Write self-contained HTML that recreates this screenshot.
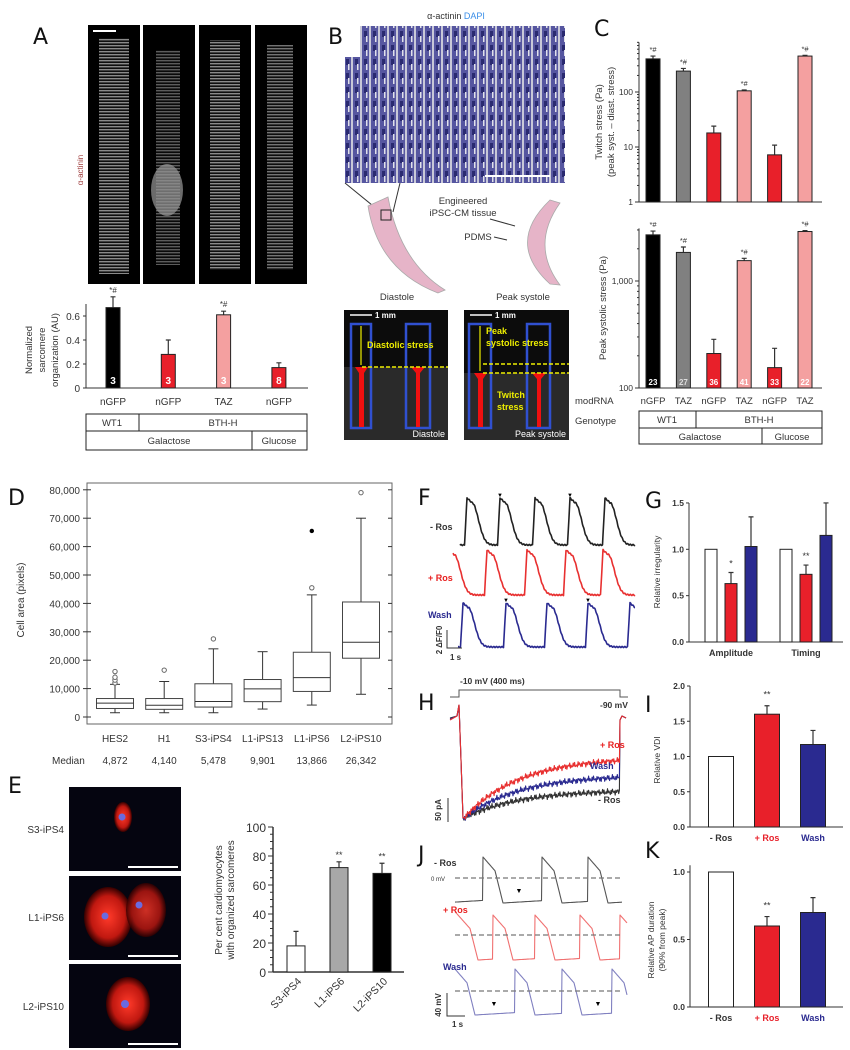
<!DOCTYPE html>
<html><head><meta charset="utf-8"><style>
html,body{margin:0;padding:0;background:#fff;}
svg{display:block;font-family:"Liberation Sans",Arial,sans-serif;}
.t{font-size:9.5px;fill:#333;}
.L{font-size:22px;fill:#111;font-family:"DejaVu Sans","Liberation Sans",sans-serif;}
.b{font-weight:bold;}
</style></head><body>
<svg id="fig" width="850" height="1050" viewBox="0 0 850 1050">
<defs>
<pattern id="sarc" width="6" height="3" patternUnits="userSpaceOnUse"><rect width="6" height="3" fill="#111"/><rect width="6" height="1.4" fill="#999"/></pattern>
<pattern id="tissue" width="9" height="14" patternUnits="userSpaceOnUse"><rect width="9" height="14" fill="#5656a0"/><rect x="0" width="2" height="14" fill="#c8c8d8"/><rect x="4" y="3" width="3" height="6" fill="#2a2a70"/><rect x="6" y="8" width="1.5" height="6" fill="#e0e0ea"/></pattern>
<radialGradient id="redcell"><stop offset="0" stop-color="#ff3a2a"/><stop offset="0.7" stop-color="#c01810"/><stop offset="1" stop-color="#300"/></radialGradient>
</defs>

<!-- Panel A -->
<text class="L" x="33" y="44">A</text>
<text class="t" x="0" y="0" transform="translate(83,170) rotate(-90)" text-anchor="middle" style="fill:#a04040;font-size:8px">α-actinin</text>
<g>
<rect x="88" y="25" width="52" height="259" fill="#000"/><rect x="99" y="38" width="30" height="236" fill="url(#sarc)" opacity="0.9"/>
<rect x="143" y="25" width="52" height="259" fill="#000"/><rect x="156" y="50" width="24" height="215" fill="url(#sarc)" opacity="0.6"/><ellipse cx="167" cy="190" rx="16" ry="26" fill="#999" opacity="0.7"/>
<rect x="199" y="25" width="52" height="259" fill="#000"/><rect x="210" y="40" width="30" height="230" fill="url(#sarc)" opacity="0.9"/>
<rect x="255" y="25" width="52" height="259" fill="#000"/><rect x="267" y="45" width="26" height="225" fill="url(#sarc)" opacity="0.75"/>
<rect x="93" y="30" width="23" height="2" fill="#fff"/>
</g>
<text class="t" transform="translate(32,350) rotate(-90)" text-anchor="middle"><tspan x="0" dy="0">Normalized</tspan><tspan x="0" dy="13">sarcomere</tspan><tspan x="0" dy="13">organization (AU)</tspan></text>
<g id="gA"></g>
<g class="t" text-anchor="middle">
<rect x="86" y="414" width="221" height="36" fill="none" stroke="#222"/>
<line x1="86" y1="431" x2="307" y2="431" stroke="#222"/><line x1="139" y1="414" x2="139" y2="431" stroke="#222"/><line x1="252" y1="431" x2="252" y2="450" stroke="#222"/>
<text x="112" y="426">WT1</text><text x="223" y="426">BTH-H</text><text x="169" y="444">Galactose</text><text x="279" y="444">Glucose</text>
</g>

<!-- Panel B -->
<text class="L" x="328" y="44">B</text>
<text class="t" x="456" y="19" text-anchor="middle" style="font-size:9px">α-actinin <tspan fill="#3a8ee8">DAPI</tspan></text>
<path d="M360,26 L565,26 L565,183 L345,183 L345,57 L360,57 Z" fill="url(#tissue)"/>
<rect x="485" y="175" width="65" height="2" fill="#fff"/>
<line x1="345" y1="183" x2="383" y2="214" stroke="#333"/>
<line x1="400" y1="183" x2="393" y2="212" stroke="#333"/>
<path d="M368,206 L388,197 Q400,262 445,290 L438,293 Q378,270 368,206 Z" fill="#e6b4c8" stroke="#aaa" stroke-width="0.8"/>
<rect x="381" y="210" width="10" height="10" fill="none" stroke="#222"/>
<path d="M550,200 L560,203 Q530,245 560,285 L550,284 Q505,243 550,200 Z" fill="#e6b4c8" stroke="#aaa" stroke-width="0.8"/>
<text class="t" x="463" y="204" text-anchor="middle">Engineered</text>
<text class="t" x="463" y="216" text-anchor="middle">iPSC-CM tissue</text>
<line x1="490" y1="219" x2="515" y2="226" stroke="#333"/>
<text class="t" x="478" y="240" text-anchor="middle">PDMS</text>
<line x1="494" y1="237" x2="507" y2="240" stroke="#333"/>
<text class="t" x="397" y="300" text-anchor="middle">Diastole</text>
<text class="t" x="523" y="300" text-anchor="middle">Peak systole</text>
<g>
<rect x="344" y="310" width="104" height="130" fill="#0c0c0c"/><rect x="344" y="367" width="104" height="73" fill="#2a2a2a"/>
<rect x="351" y="324" width="20" height="104" fill="none" stroke="#3050d0" stroke-width="2.5"/><rect x="406" y="324" width="24" height="104" fill="none" stroke="#3050d0" stroke-width="2.5"/>
<path d="M355,367 L368,367 L364,373 L364,427 L359,427 L359,373 Z" fill="#f01010"/><path d="M411,367 L425,367 L420,373 L420,427 L416,427 L416,373 Z" fill="#f01010"/>
<line x1="362" y1="367" x2="448" y2="367" stroke="#ee0" stroke-dasharray="4,2" stroke-width="1.5"/>
<line x1="361" y1="326" x2="361" y2="365" stroke="#ee0" stroke-width="1.2"/>
<text x="367" y="348" style="font-size:9px;fill:#ee0;font-weight:bold">Diastolic stress</text>
<line x1="350" y1="315" x2="372" y2="315" stroke="#fff" stroke-width="1.5"/><text x="375" y="318" style="font-size:8px;fill:#fff;font-weight:bold">1 mm</text>
<text x="445" y="437" text-anchor="end" style="font-size:9px;fill:#fff">Diastole</text>
</g>
<g>
<rect x="464" y="310" width="105" height="130" fill="#0c0c0c"/><rect x="464" y="373" width="105" height="67" fill="#2a2a2a"/>
<rect x="469" y="324" width="22" height="104" fill="none" stroke="#3050d0" stroke-width="2.5"/><rect x="527" y="324" width="23" height="104" fill="none" stroke="#3050d0" stroke-width="2.5"/>
<path d="M474,373 L487,373 L483,379 L483,427 L478,427 L478,379 Z" fill="#f01010"/><path d="M532,373 L546,373 L541,379 L541,427 L537,427 L537,379 Z" fill="#f01010"/>
<line x1="483" y1="364" x2="569" y2="364" stroke="#ee0" stroke-dasharray="4,2" stroke-width="1.5"/>
<line x1="483" y1="373" x2="569" y2="373" stroke="#ee0" stroke-dasharray="4,2" stroke-width="1.5"/>
<line x1="480" y1="326" x2="480" y2="371" stroke="#ee0" stroke-width="1.2"/>
<text x="486" y="334" style="font-size:9px;fill:#ee0;font-weight:bold">Peak</text><text x="486" y="346" style="font-size:9px;fill:#ee0;font-weight:bold">systolic stress</text>
<text x="497" y="398" style="font-size:9px;fill:#ee0;font-weight:bold">Twitch</text><text x="497" y="410" style="font-size:9px;fill:#ee0;font-weight:bold">stress</text>
<line x1="470" y1="315" x2="492" y2="315" stroke="#fff" stroke-width="1.5"/><text x="495" y="318" style="font-size:8px;fill:#fff;font-weight:bold">1 mm</text>
<text x="566" y="437" text-anchor="end" style="font-size:9px;fill:#fff">Peak systole</text>
</g>

<!-- Panel C -->
<text class="L" x="594" y="36">C</text>
<text class="t" transform="translate(602,122) rotate(-90)" text-anchor="middle"><tspan x="0" dy="0">Twitch stress (Pa)</tspan><tspan x="0" dy="12">(peak syst. – diast. stress)</tspan></text>
<text class="t" transform="translate(606,308) rotate(-90)" text-anchor="middle">Peak systolic stress (Pa)</text>
<g id="gC"></g>
<text class="t" x="575" y="404">modRNA</text>
<text class="t" x="575" y="424">Genotype</text>
<g class="t" text-anchor="middle">
<rect x="639" y="411" width="183" height="33" fill="none" stroke="#222"/>
<line x1="639" y1="428" x2="822" y2="428" stroke="#222"/><line x1="696" y1="411" x2="696" y2="428" stroke="#222"/><line x1="762" y1="428" x2="762" y2="444" stroke="#222"/>
<text x="667" y="423">WT1</text><text x="759" y="423">BTH-H</text><text x="700" y="440">Galactose</text><text x="792" y="440">Glucose</text>
</g>

<!-- Panel D -->
<text class="L" x="8" y="505">D</text>
<text class="t" transform="translate(24,600) rotate(-90)" text-anchor="middle" style="font-size:10px">Cell area (pixels)</text>
<g id="gD"></g>
<text class="t" x="52" y="764" style="font-size:10px">Median</text>

<!-- Panel E -->
<text class="L" x="8" y="793">E</text>
<g>
<rect x="69" y="787" width="112" height="84" fill="#050510"/><ellipse cx="123" cy="817" rx="9" ry="15" fill="url(#redcell)"/><circle cx="122" cy="817" r="3.5" fill="#6a6ae0"/><rect x="128" y="866" width="50" height="2" fill="#fff"/>
<rect x="69" y="876" width="112" height="84" fill="#050510"/><ellipse cx="108" cy="917" rx="24" ry="30" fill="url(#redcell)"/><ellipse cx="146" cy="910" rx="20" ry="27" fill="url(#redcell)" opacity="0.8"/><circle cx="105" cy="916" r="3.5" fill="#6a6ae0"/><circle cx="139" cy="905" r="3.5" fill="#6a6ae0"/><rect x="128" y="955" width="50" height="2" fill="#fff"/>
<rect x="69" y="964" width="112" height="84" fill="#050510"/><ellipse cx="128" cy="1004" rx="22" ry="27" fill="url(#redcell)"/><circle cx="125" cy="1004" r="4" fill="#6a6ae0"/><rect x="128" y="1043" width="50" height="2" fill="#fff"/>
</g>
<text class="t" x="64" y="833" text-anchor="end" style="font-size:10px">S3-iPS4</text>
<text class="t" x="64" y="921" text-anchor="end" style="font-size:10px">L1-iPS6</text>
<text class="t" x="64" y="1010" text-anchor="end" style="font-size:10px">L2-iPS10</text>
<text class="t" transform="translate(222,900) rotate(-90)" text-anchor="middle" style="font-size:10px"><tspan x="0" dy="0">Per cent cardiomyocytes</tspan><tspan x="0" dy="12">with organized sarcomeres</tspan></text>
<g id="gE"></g>

<!-- Panel F -->
<text class="L" x="418" y="505">F</text>
<g id="gF"></g>
<text class="t b" x="430" y="530" style="font-size:9px">- Ros</text>
<text class="t b" x="428" y="581" style="font-size:9px;fill:#e82020">+ Ros</text>
<text class="t b" x="428" y="618" style="font-size:9px;fill:#2a2a90">Wash</text>
<path d="M447,630 L447,648 L462,648" fill="none" stroke="#333"/>
<text class="t b" transform="translate(442,640) rotate(-90)" text-anchor="middle" style="font-size:8px">2 ΔF/F0</text>
<text class="t b" x="450" y="660" style="font-size:8px">1 s</text>

<!-- Panel G -->
<text class="L" x="645" y="508">G</text>
<text class="t" transform="translate(660,572) rotate(-90)" text-anchor="middle" style="font-size:8.5px">Relative irregularity</text>
<g id="gG"></g>

<!-- Panel H -->
<text class="L" x="418" y="710">H</text>
<path d="M450,697 L459,697 L459,690 L620,690 L620,697 L628,697" fill="none" stroke="#555"/>
<text class="t b" x="460" y="684" style="font-size:8.5px">-10 mV (400 ms)</text>
<text class="t b" x="600" y="708" style="font-size:8.5px">-90 mV</text>
<g id="gH"></g>
<text class="t b" x="600" y="748" style="font-size:9px;fill:#e82020">+ Ros</text>
<text class="t b" x="590" y="769" style="font-size:9px;fill:#2a2a90">Wash</text>
<text class="t b" x="598" y="803" style="font-size:9px">- Ros</text>
<line x1="448" y1="798" x2="448" y2="822" stroke="#333"/>
<text class="t b" transform="translate(441,810) rotate(-90)" text-anchor="middle" style="font-size:8px">50 pA</text>

<!-- Panel I -->
<text class="L" x="645" y="712">I</text>
<text class="t" transform="translate(660,760) rotate(-90)" text-anchor="middle" style="font-size:8.5px">Relative VDI</text>
<g id="gI"></g>

<!-- Panel J -->
<text class="L" x="418" y="862">J</text>
<g id="gJ"></g>
<text class="t b" x="434" y="866" style="font-size:9px">- Ros</text>
<text class="t" x="431" y="881" style="font-size:6px">0 mV</text>
<text class="t b" x="443" y="913" style="font-size:9px;fill:#e82020">+ Ros</text>
<text class="t b" x="443" y="970" style="font-size:9px;fill:#2a2a90">Wash</text>
<path d="M447,993 L447,1016 L465,1016" fill="none" stroke="#333"/>
<text class="t b" transform="translate(441,1005) rotate(-90)" text-anchor="middle" style="font-size:8px">40 mV</text>
<text class="t b" x="452" y="1027" style="font-size:8px">1 s</text>

<!-- Panel K -->
<text class="L" x="645" y="858">K</text>
<text class="t" transform="translate(654,940) rotate(-90)" text-anchor="middle" style="font-size:8.5px"><tspan x="0" dy="0">Relative AP duration</tspan><tspan x="0" dy="11">(90% from peak)</tspan></text>
<g id="gK"></g>
</svg>

<script>
// ---------- data ----------
const aCats = ['nGFP','nGFP','TAZ','nGFP'];
const aVals = [0.67, 0.28, 0.61, 0.17];
const aErr = [0.09, 0.12, 0.03, 0.04];
const aN = ['3','3','3','8'];
const aTicks = [0, 0.2, 0.4, 0.6];

const cCats = ['nGFP','TAZ','nGFP','TAZ','nGFP','TAZ'];
const cTwitch = [400, 240, 18, 105, 7.2, 450];
const cTwitchErr = [50, 28, 6, 4, 3.6, 15];
const cPeak = [2700, 1850, 210, 1550, 155, 2900];
const cPeakErr = [230, 230, 75, 80, 80, 60];
const cN = ['23','27','36','41','33','22'];
const cTwitchTicks = [1, 10, 100];
const cPeakTicks = [100, 1000];
const cPeakTickLabels = ['100', '1,000'];

const dCats = ['HES2','H1','S3-iPS4','L1-iPS13','L1-iPS6','L2-iPS10'];
const dMin = [1500, 1500, 1500, 2800, 4200, 8000];
const dQ1 = [3000, 2700, 3500, 5400, 9000, 20700];
const dMed = [4872, 4140, 5478, 9901, 13866, 26342];
const dQ3 = [6500, 6500, 11700, 13200, 22800, 40500];
const dMax = [11500, 12500, 24000, 23000, 43000, 70000];
const dOut = [[12000,13000,14000,16000],[16500],[27500],[],[45500],[79000]];
const dMedLabels = ['4,872','4,140','5,478','9,901','13,866','26,342'];
const dTicks = [0,10000,20000,30000,40000,50000,60000,70000,80000];
const dTickLabels = ['0','10,000','20,000','30,000','40,000','50,000','60,000','70,000','80,000'];

const eCats = ['S3-iPS4','L1-iPS6','L2-iPS10'];
const eVals = [18, 72, 68];
const eErr = [10, 4, 7];
const eTicks = [0,20,40,60,80,100];

const gGroups = ['Amplitude','Timing'];
const gVals = [[1.0, 0.63, 1.03],[1.0, 0.73, 1.15]];
const gErr = [[0, 0.12, 0.32],[0, 0.1, 0.35]];
const gTicks = [0, 0.5, 1.0, 1.5];

const iCats = ['- Ros','+ Ros','Wash'];
const iVals = [1.0, 1.6, 1.17];
const iErr = [0, 0.12, 0.2];
const iTicks = [0, 0.5, 1.0, 1.5, 2.0];

const kVals = [1.0, 0.6, 0.7];
const kErr = [0, 0.07, 0.11];
const kTicks = [0, 0.5, 1.0];

const fBlackPeaks = [467, 500, 535, 570, 605];
const fRedPeaks = [449, 487, 527, 566, 603];
const fBluePeaks = [463, 506, 547, 588, 630];
const hEnd = [790, 775, 757];
const jBlackPeaks = [420, 483, 542, 588];
const jRedPeaks = [458, 493, 535, 580, 620];
const jBluePeaks = [455, 515, 562, 612];

// ---------- helpers ----------
const NS = 'http://www.w3.org/2000/svg';
function mk(parent, tag, attrs, txt){
  const e = document.createElementNS(NS, tag);
  for (const k in attrs) e.setAttribute(k, attrs[k]);
  if (txt !== undefined) e.textContent = txt;
  document.getElementById(parent).appendChild(e);
  return e;
}
function bar(g, x, w, y0, y1, fill, name){
  const r = mk(g, 'rect', {x: x - w/2, y: Math.min(y0,y1), width: w, height: Math.abs(y0-y1), fill: fill, stroke: '#222', 'stroke-width': 1});
  
  
  return r;
}
function errbar(g, x, yTop, yErr, name){
  const l = mk(g, 'path', {d: `M${x},${yTop} L${x},${yErr} M${x-2.5},${yErr} L${x+2.5},${yErr}`, stroke: '#333', fill: 'none', 'stroke-width': 1.2});
  
  
}
function txt(g, x, y, s, extra, name){
  const a = Object.assign({x: x, y: y, class: 't'}, extra || {});
  const t = mk(g, 'text', a, s);
  
  
  return t;
}
function line(g, x1, y1, x2, y2, name, w){
  const l = mk(g, 'line', {x1, y1, x2, y2, stroke: '#333', 'stroke-width': w || 1});
  
  
}

// ---------- Panel A ----------
(function(){
  const yA = v => 388 - v / 0.6 * 72;
  const xA = i => 113 + i * 55.3;
  const aFill = ['#000', '#e8202a', '#f4a0a0', '#e8202a'];
  line('gA', 86, yA(0.7), 86, yA(0), 'a-y-axis');
  line('gA', 86, yA(0), 308, yA(0), 'a-x-axis');
  aTicks.forEach(t => { line('gA', 83, yA(t), 86, yA(t), 'a-tick'); txt('gA', 80, yA(t) + 4, String(t), {'text-anchor': 'end', style: 'font-size:10px'}, 'a-tick-label'); });
  aVals.forEach((v, i) => {
    errbar('gA', xA(i), yA(v), yA(v + aErr[i]), 'a-error-bar');
    bar('gA', xA(i), 14, yA(0), yA(v), aFill[i], 'a-bar-' + i);
    txt('gA', xA(i), yA(0) - 4, aN[i], {'text-anchor': 'middle', style: 'font-size:10px;fill:#fff;font-weight:bold'}, 'a-n-label');
    txt('gA', xA(i), 405, aCats[i], {'text-anchor': 'middle', style: 'font-size:10px'}, 'a-category-label');
  });
  [0, 2].forEach(i => txt('gA', xA(i), yA(aVals[i] + aErr[i]) - 4, '*#', {'text-anchor': 'middle', style: 'font-size:8px'}, 'a-significance'));
})();

// ---------- Panel C ----------
(function(){
  const xC = i => 653 + i * 30.4;
  const y1 = v => 202 - Math.log10(v) * 55;
  const y2 = v => 388 - (Math.log10(v) - 2) * 107;
  const cFill = ['#000', '#808080', '#e8202a', '#f4a0a0', '#e8202a', '#f4a0a0'];
  const nFill = ['#fff', '#ddd', '#fff', '#fff', '#fff', '#fff'];
  line('gC', 639, y1(800), 639, y1(1), 'c1-y-axis');
  line('gC', 639, y1(1), 822, y1(1), 'c1-x-axis');
  for (let d = 0; d < 3; d++) for (let m = 1; m < 10; m++) { const v = Math.pow(10, d) * m; if (v <= 800) line('gC', m === 1 ? 635 : 637, y1(v), 639, y1(v), 'c1-tick'); }
  cTwitchTicks.forEach(t => txt('gC', 633, y1(t) + 3, String(t), {'text-anchor': 'end', style: 'font-size:8.5px'}, 'c1-tick-label'));
  line('gC', 639, y2(3100), 639, y2(100), 'c2-y-axis');
  line('gC', 639, y2(100), 822, y2(100), 'c2-x-axis');
  for (let d = 2; d < 4; d++) for (let m = 1; m < 10; m++) { const v = Math.pow(10, d) * m; if (v <= 3100) line('gC', m === 1 ? 635 : 637, y2(v), 639, y2(v), 'c2-tick'); }
  cPeakTicks.forEach((t, i) => txt('gC', 633, y2(t) + 3, cPeakTickLabels[i], {'text-anchor': 'end', style: 'font-size:8.5px'}, 'c2-tick-label'));
  cTwitch.forEach((v, i) => {
    errbar('gC', xC(i), y1(v), y1(v + cTwitchErr[i]), 'c1-error-bar');
    bar('gC', xC(i), 14, y1(1), y1(v), cFill[i], 'c1-bar-' + i);
    if (i !== 2 && i !== 4) txt('gC', xC(i), y1(v + cTwitchErr[i]) - 4, '*#', {'text-anchor': 'middle', style: 'font-size:7.5px'}, 'c1-significance');
  });
  cPeak.forEach((v, i) => {
    errbar('gC', xC(i), y2(v), y2(v + cPeakErr[i]), 'c2-error-bar');
    bar('gC', xC(i), 14, y2(100), y2(v), cFill[i], 'c2-bar-' + i);
    txt('gC', xC(i), y2(100) - 3, cN[i], {'text-anchor': 'middle', style: 'font-size:8px;font-weight:bold;fill:' + nFill[i]}, 'c2-n-label');
    if (i !== 2 && i !== 4) txt('gC', xC(i), y2(v + cPeakErr[i]) - 4, '*#', {'text-anchor': 'middle', style: 'font-size:7.5px'}, 'c2-significance');
    txt('gC', xC(i), 404, cCats[i], {'text-anchor': 'middle', style: 'font-size:9.5px'}, 'c-category-label');
  });
})();

// ---------- Panel D ----------
(function(){
  const yD = v => 717 - v / 10000 * 28.4;
  const xD = i => 115 + i * 49.2;
  const f = mk('gD', 'rect', {x: 87, y: 483, width: 305, height: 241, fill: 'none', stroke: '#666'});
  
  
  dTicks.forEach((t, i) => {
    line('gD', 83, yD(t), 91, yD(t), 'd-tick'); line('gD', 388, yD(t), 392, yD(t), 'd-tick-right');
    txt('gD', 80, yD(t) + 4, dTickLabels[i], {'text-anchor': 'end', style: 'font-size:10px'}, 'd-tick-label');
  });
  dCats.forEach((c, i) => {
    const x = xD(i), w = 37;
    line('gD', x, yD(dMin[i]), x, yD(dQ1[i]), 'd-whisker-low');
    line('gD', x, yD(dQ3[i]), x, yD(dMax[i]), 'd-whisker-high');
    line('gD', x - 5, yD(dMin[i]), x + 5, yD(dMin[i]), 'd-cap-low');
    line('gD', x - 5, yD(dMax[i]), x + 5, yD(dMax[i]), 'd-cap-high');
    const b = mk('gD', 'rect', {x: x - w/2, y: yD(dQ3[i]), width: w, height: yD(dQ1[i]) - yD(dQ3[i]), fill: '#fff', stroke: '#444'});
    
    
    line('gD', x - w/2, yD(dMed[i]), x + w/2, yD(dMed[i]), 'd-median-line');
    dOut[i].forEach(o => {
      const cc = mk('gD', 'circle', {cx: x, cy: yD(o), r: 2.2, fill: '#fff', stroke: '#666'});
      
      
    });
    txt('gD', x, 742, c, {'text-anchor': 'middle', style: 'font-size:10px'}, 'd-category-label');
    txt('gD', x, 764, dMedLabels[i], {'text-anchor': 'middle', style: 'font-size:10px'}, 'd-median-value');
  });
  const ext = mk('gD', 'circle', {cx: xD(4), cy: yD(65500), r: 2.2, fill: '#000'});
  
  
})();

// ---------- Panel E ----------
(function(){
  const yE = v => 972 - v * 1.45;
  const xE = i => 296 + i * 43;
  const eFill = ['#fff', '#a8a8a8', '#000'];
  line('gE', 273, yE(100), 273, yE(0), 'e-y-axis', 1.5);
  line('gE', 273, yE(0), 404, yE(0), 'e-x-axis', 1.5);
  for (let v = 0; v <= 100; v += 5) line('gE', v % 20 === 0 ? 268 : 270, yE(v), 273, yE(v), 'e-tick');
  eTicks.forEach(t => txt('gE', 266, yE(t) + 5, String(t), {'text-anchor': 'end', style: 'font-size:12px'}, 'e-tick-label'));
  eVals.forEach((v, i) => {
    errbar('gE', xE(i), yE(v), yE(v + eErr[i]), 'e-error-bar');
    bar('gE', xE(i), 18, yE(0), yE(v), eFill[i], 'e-bar-' + i);
    if (i > 0) txt('gE', xE(i), yE(v + eErr[i]) - 4, '**', {'text-anchor': 'middle', style: 'font-size:9px'}, 'e-significance');
    txt('gE', xE(i) + 6, 982, eCats[i], {'text-anchor': 'end', transform: `rotate(-45 ${xE(i)+6} 982)`, style: 'font-size:10.5px'}, 'e-category-label');
  });
})();

// ---------- G, I, K ----------
const rosFill = ['#fff', '#e8202a', '#2a2a90'];
const rosText = ['#333', '#e8202a', '#2a2a90'];
(function(){
  const yG = v => 642 - v * 92.7;
  const xG = (g, k) => 711 + g * 75 + k * 20;
  line('gG', 689, yG(1.5), 689, yG(0), 'g-y-axis');
  line('gG', 689, yG(0), 843, yG(0), 'g-x-axis');
  gTicks.forEach(t => { line('gG', 686, yG(t), 689, yG(t), 'g-tick'); txt('gG', 684, yG(t) + 3, t.toFixed(1), {'text-anchor': 'end', style: 'font-size:8.5px;font-weight:bold'}, 'g-tick-label'); });
  gGroups.forEach((gn, g) => {
    gVals[g].forEach((v, k) => {
      if (gErr[g][k] > 0) errbar('gG', xG(g, k), yG(v), yG(v + gErr[g][k]), 'g-error-bar');
      bar('gG', xG(g, k), 12, yG(0), yG(v), rosFill[k], 'g-bar-' + gn + '-' + k);
    });
    txt('gG', xG(g, 1), yG(gVals[g][1] + gErr[g][1]) - 6, g === 0 ? '*' : '**', {'text-anchor': 'middle', style: 'font-size:9px'}, 'g-significance');
    txt('gG', xG(g, 1), 656, gn, {'text-anchor': 'middle', style: 'font-size:9px;font-weight:bold'}, 'g-group-label');
  });
})();
function simpleChart(g, vals, errs, ticks, y0px, scale, topV, sig, pre){
  const y = v => y0px - v * scale;
  const x = i => 721 + i * 46;
  line(g, 690, y(topV), 690, y(0), pre + '-y-axis');
  line(g, 690, y(0), 843, y(0), pre + '-x-axis');
  ticks.forEach(t => { line(g, 687, y(t), 690, y(t), pre + '-tick'); txt(g, 685, y(t) + 3, t.toFixed(1), {'text-anchor': 'end', style: 'font-size:8.5px;font-weight:bold'}, pre + '-tick-label'); });
  vals.forEach((v, i) => {
    if (errs[i] > 0) errbar(g, x(i), y(v), y(v + errs[i]), pre + '-error-bar');
    bar(g, x(i), 25, y(0), y(v), rosFill[i], pre + '-bar-' + i);
    txt(g, x(i), y(0) + 14, iCats[i], {'text-anchor': 'middle', style: 'font-size:9px;font-weight:bold;fill:' + rosText[i]}, pre + '-category-label');
  });
  txt(g, x(sig), y(vals[sig] + errs[sig]) - 8, '**', {'text-anchor': 'middle', style: 'font-size:9px'}, pre + '-significance');
}
simpleChart('gI', iVals, iErr, iTicks, 827, 70.5, 2.0, 1, 'i');
simpleChart('gK', kVals, kErr, kTicks, 1007, 135, 1.05, 1, 'k');

// ---------- traces ----------
function tracePath(g, pts, color, name, w){
  const p = mk(g, 'path', {d: 'M' + pts.map(q => q[0].toFixed(1) + ',' + q[1].toFixed(1)).join(' L'), fill: 'none', stroke: color, 'stroke-width': w || 1.4, 'stroke-linejoin': 'round'});
  
  
}
function caShape(d){
  if (d < -2.5) return 0;
  if (d < 0) return (d + 2.5) / 2.5;
  if (d < 5) return 1 - d * 0.02;
  return Math.max(0, 0.9 * Math.exp(-Math.pow((d - 5) / 9, 2)));
}
function caTrace(peaks, x0, x1, base, top, color, name){
  const pts = [];
  for (let x = x0; x <= x1; x += 0.5) {
    let v = 0; peaks.forEach(p => v = Math.max(v, caShape(x - p)));
    pts.push([x, base - v * (base - top) + 0.6 * Math.sin(x * 2.3)]);
  }
  tracePath('gF', pts, color, name, 1.6);
}
caTrace(fBlackPeaks, 460, 635, 545, 498, '#222', 'trace-minus-ros');
caTrace(fRedPeaks, 453, 635, 595, 550, '#e83030', 'trace-plus-ros');
caTrace(fBluePeaks, 458, 635, 647, 603, '#2a2a90', 'trace-wash');
[[500, 497], [570, 497], [506, 602], [588, 602]].forEach(a => txt('gF', a[0], a[1], '▼', {'text-anchor': 'middle', style: 'font-size:6px;fill:#000'}, 'f-arrowhead'));

(function(){
  const cols = ['#333', '#2a2a90', '#e83030'];
  const names = ['h-trace-minus-ros', 'h-trace-wash', 'h-trace-plus-ros'];
  hEnd.forEach((end, k) => {
    const pts = [[450, 718 + k], [457, 716], [459, 705], [461, 760], [463, 818]];
    for (let x = 464; x <= 620; x += 0.7) {
      const f = 1 - Math.exp(-(x - 464) / 55);
      pts.push([x, 818 - (818 - end) * f + 2.2 * Math.sin(x * 3.7 + k) + 1.2 * Math.sin(x * 1.3)]);
    }
    pts.push([620, 720]); pts.push([622, 716]); pts.push([626, 718]);
    tracePath('gH', pts, cols[k], names[k], 1.1);
  });
})();

function apTrace(peaks, x0, x1, top, low, dash, color, name){
  const pts = [];
  const ampl = low - top;
  for (let x = x0; x <= x1; x += 0.5) {
    let p = peaks[0];
    peaks.forEach(q => { if (q <= x) p = q; });
    const d = x - p;
    let y;
    if (d < 12) y = top + ampl * 0.3 * d / 12;
    else if (d < 20) y = top + ampl * (0.3 + 0.7 * (d - 12) / 8);
    else y = low - Math.min(3, (d - 20) * 0.06);
    pts.push([x, y]);
  }
  tracePath('gJ', pts, color, name, 1.1);
  const dl = mk('gJ', 'line', {x1: x0, y1: dash, x2: 620, y2: dash, stroke: '#777', 'stroke-dasharray': '5,3', 'stroke-width': 1.2});
  
  
}
apTrace(jBlackPeaks, 455, 622, 857, 903, 878, '#555', 'ap-minus-ros');
apTrace(jRedPeaks, 455, 627, 915, 960, 935, '#f07070', 'ap-plus-ros');
apTrace(jBluePeaks, 455, 627, 969, 1015, 991, '#8080c0', 'ap-wash');
[[519, 893], [494, 1006], [598, 1006]].forEach(a => txt('gJ', a[0], a[1], '▼', {'text-anchor': 'middle', style: 'font-size:7px;fill:#000'}, 'j-arrowhead'));
</script>
</body></html>
